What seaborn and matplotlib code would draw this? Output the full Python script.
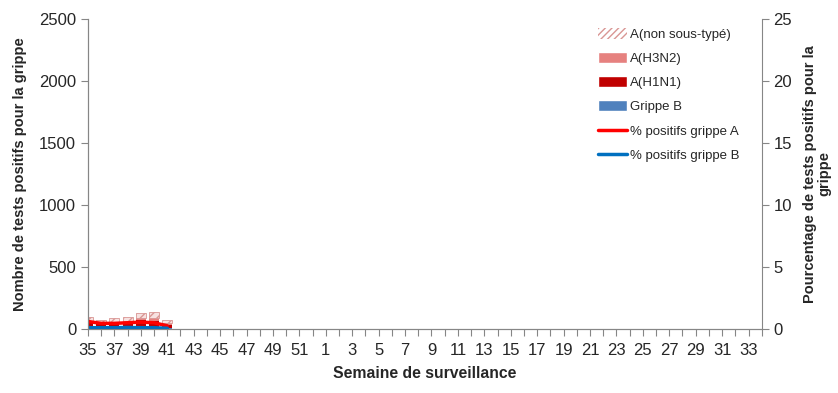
import matplotlib
matplotlib.use("Agg")
import matplotlib.pyplot as plt
from matplotlib.patches import Patch
from matplotlib.lines import Line2D
import seaborn as sns
import numpy as np
import pandas as pd

weeks = list(range(35, 53)) + list(range(1, 35))
# reported weeks only (35-41)
grippe_b = [15, 12, 15, 15, 15, 18, 10]
h1n1 = [35, 30, 25, 30, 55, 45, 20]
h3n2 = [15, 15, 15, 15, 20, 25, 15]
non_sous_type = [35, 18, 35, 37, 35, 52, 30]
pct_a = [0.6, 0.45, 0.45, 0.5, 0.55, 0.5, 0.25]
pct_b = [0.1, 0.1, 0.1, 0.12, 0.1, 0.1, 0.05]

sns.set_style("white")
plt.rcParams['font.family'] = ['Liberation Sans', 'DejaVu Sans']
plt.rcParams['hatch.color'] = "#D99694"

n = len(grippe_b)
df = pd.DataFrame({
    "pos": np.arange(n),
    "B": grippe_b, "H1N1": h1n1, "H3N2": h3n2, "NST": non_sous_type,
    "pctA": pct_a, "pctB": pct_b,
})

fig = plt.figure(figsize=(8.38, 3.93), dpi=100)
ax = fig.add_axes([0.105, 0.163, 0.804, 0.789])
w = 0.75
bottom = np.zeros(n)
ax.bar(df["pos"], df["B"], w, bottom=bottom, color="#4F81BD", linewidth=0)
bottom += df["B"]
ax.bar(df["pos"], df["H1N1"], w, bottom=bottom, color="#C00000", linewidth=0)
bottom += df["H1N1"]
ax.bar(df["pos"], df["H3N2"], w, bottom=bottom, color="#E6817F", linewidth=0)
bottom += df["H3N2"]
ax.bar(df["pos"], df["NST"], w, bottom=bottom, facecolor="#F7E1E0",
       edgecolor="#D99694", hatch="////", linewidth=0.6)

ax.set_xlim(0, len(weeks) - 1)
ax.set_ylim(0, 2500)
ax.set_yticks(range(0, 2501, 500))
ax.set_xticks(range(len(weeks)))
ax.set_xticklabels([str(wk) if i % 2 == 0 else "" for i, wk in enumerate(weeks)])
ax.set_xlabel("Semaine de surveillance", fontsize=11.3, fontweight="bold", labelpad=6)
ax.set_ylabel("Nombre de tests positifs pour la grippe", fontsize=10.5,
              fontweight="bold", labelpad=9)

ax2 = ax.twinx()
sns.lineplot(data=df, x="pos", y="pctA", ax=ax2, color="#FF0000", linewidth=2.5)
sns.lineplot(data=df, x="pos", y="pctB", ax=ax2, color="#0070C0", linewidth=2.5)
ax2.set_ylim(0, 25)
ax2.set_xlim(0, len(weeks) - 1)
ax2.set_yticks(range(0, 26, 5))
ax2.set_ylabel("Pourcentage de tests positifs pour la\ngrippe", fontsize=10.5,
               fontweight="bold", linespacing=1.0, labelpad=8)

for a in (ax, ax2):
    for s in a.spines.values():
        s.set_color("#868686")
    a.spines["top"].set_visible(False)
    a.tick_params(axis="both", which="both", direction="out", length=5,
                  color="#868686", labelsize=12, width=0.8)
ax.spines["right"].set_visible(False)
ax.tick_params(axis="y", left=True)
ax.tick_params(axis="x", bottom=True, pad=5)
ax2.tick_params(axis="y", right=True)
ax2.set_xlabel("")

handles = [
    Patch(facecolor="white", edgecolor="#D99694", hatch="/////", linewidth=0),
    Patch(facecolor="#E6817F"),
    Patch(facecolor="#C00000"),
    Patch(facecolor="#4F81BD"),
    Line2D([], [], color="#FF0000", linewidth=2.5),
    Line2D([], [], color="#0070C0", linewidth=2.5),
]
labels = ["A(non sous-typé)", "A(H3N2)", "A(H1N1)", "Grippe B",
          "% positifs grippe A", "% positifs grippe B"]
ax2.legend(handles, labels, loc="upper left", bbox_to_anchor=(0.74, 1.01),
           frameon=False, fontsize=9.5, handlelength=2.2, handleheight=0.9,
           labelspacing=0.85, handletextpad=0.2)

fig.savefig("out.png", dpi=100)
